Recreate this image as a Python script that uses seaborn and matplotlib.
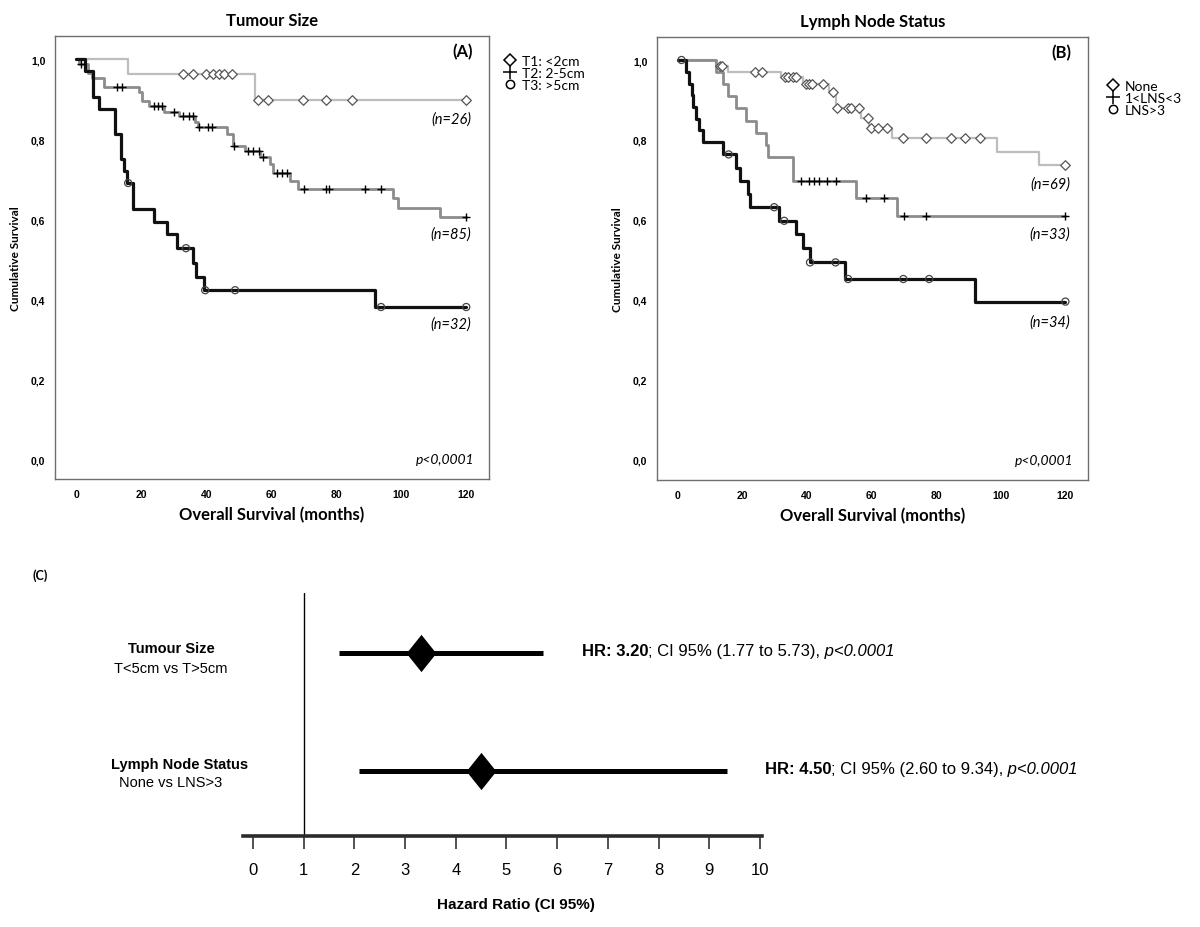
import numpy as np
import pandas as pd
import matplotlib
matplotlib.use("Agg")
import matplotlib.pyplot as plt
from matplotlib.lines import Line2D
from matplotlib.path import Path
import seaborn as sns

# Panel A - tumour size: step times, survival after each step, censor times
t1_steps = [16.1, 54.9]
t1_surv = [0.962, 0.898]
t1_cens = [32.8, 35.9, 39.9, 42.1, 43.8, 45.5, 47.9, 55.9, 58.9, 69.9, 76.8, 84.9, 120]

t2_steps = [1.0, 3.5, 5.0, 8.5, 19.2, 20.3, 22.3, 27.0, 31.5, 36.6, 37.6, 46.4, 48.4,
            52.0, 56.6, 59.7, 60.7, 65.8, 68.1, 97.6, 99.0, 112.0]
t2_surv = [0.988, 0.965, 0.953, 0.929, 0.918, 0.896, 0.882, 0.868, 0.857, 0.843, 0.829,
           0.8125, 0.783, 0.769, 0.754, 0.737, 0.715, 0.696, 0.675, 0.652, 0.628, 0.604]
t2_cens = [1.5, 12.7, 14.0, 23.8, 25.1, 26.4, 30.0, 33.0, 34.6, 35.9, 37.8, 40.7, 41.7,
           48.6, 53.0, 54.4, 56.1, 57.5, 61.9, 63.4, 65.0, 70.0, 76.8, 77.8, 88.8, 93.9, 120]

t3_steps = [2.8, 5.1, 6.9, 12.0, 13.8, 14.6, 15.6, 17.6, 23.8, 27.9, 31.0, 36.1, 36.9, 39.2, 92.0]
t3_surv = [0.969, 0.906, 0.875, 0.8125, 0.75, 0.72, 0.69, 0.625, 0.593, 0.562, 0.527,
           0.49, 0.455, 0.422, 0.38]
t3_cens = [16.0, 33.8, 39.7, 48.9, 93.8, 120]

# Panel B - lymph node status
n0_steps = [11.9, 15.5, 32.0, 38.6, 46.8, 48.8, 56.7, 59.1, 66.2, 98.8, 111.9]
n0_surv = [0.986, 0.971, 0.957, 0.940, 0.919, 0.879, 0.855, 0.831, 0.805, 0.771, 0.737]
n0_cens = [12.9, 13.6, 23.8, 25.9, 33.0, 34.2, 35.6, 36.5, 39.8, 40.7, 41.6, 44.8, 47.9,
           49.2, 52.8, 53.6, 56.0, 58.9, 59.8, 61.9, 64.7, 69.8, 76.7, 84.7, 88.8, 93.6, 120]

n1_steps = [11.9, 14.0, 15.5, 18.1, 21.1, 24.2, 27.3, 27.8, 35.7, 55.2, 67.9]
n1_surv = [0.97, 0.94, 0.909, 0.879, 0.848, 0.818, 0.788, 0.758, 0.697, 0.654, 0.611]
n1_cens = [38.1, 40.6, 42.2, 43.7, 46.3, 49.0, 58.3, 63.9, 69.9, 76.7, 120]

n3_steps = [2.5, 3.5, 4.3, 4.8, 5.5, 6.5, 7.8, 13.9, 18.1, 19.1, 21.6, 22.2, 31.2, 36.5,
            38.8, 40.8, 51.6, 91.9]
n3_surv = [0.971, 0.941, 0.912, 0.882, 0.853, 0.824, 0.794, 0.764, 0.731, 0.698, 0.665,
           0.632, 0.598, 0.565, 0.529, 0.494, 0.4525, 0.396]
n3_cens = [1.1, 15.7, 29.8, 32.9, 40.9, 48.8, 52.7, 69.8, 77.8, 120]

labels_a = ["T1: <2cm", "T2: 2-5cm", "T3: >5cm"]
labels_b = ["None", "1<LNS<3", "LNS>3"]
n_a = ["(n=26)", "(n=85)", "(n=32)"]
n_b = ["(n=69)", "(n=33)", "(n=34)"]
n_a_y = [0.85, 0.5625, 0.3375]
n_b_y = [0.69, 0.565, 0.345]

# Panel C - forest plot
fr_title = ["Tumour Size", "Lymph Node Status"]
fr_sub = ["T<5cm vs T>5cm", "None vs LNS>3"]
hr_mark = [3.31, 4.50]
ci_lo = [1.70, 2.10]
ci_hi = [5.73, 9.34]
hr_txt = ["3.20", "4.50"]
ci_txt = ["(1.77 to 5.73)", "(2.60 to 9.34)"]
fr_y = [1, 0]

sns.set_theme(style="white")
plt.rcParams["font.family"] = ["Liberation Sans", "DejaVu Sans"]
plt.rcParams["text.color"] = "black"
plt.rcParams["axes.labelcolor"] = "black"
plt.rcParams["xtick.color"] = "black"
plt.rcParams["ytick.color"] = "black"
CAL = ["Lato", "DejaVu Sans"]

fig = plt.figure(figsize=(12, 9.28), dpi=100)

styles = [
    dict(color="#bdbdbd", lw=1.6, marker="D", s=24, fc="white", ec="#555555"),
    dict(color="#8c8c8c", lw=2.0, marker="+", s=34, fc="black", ec="black"),
    dict(color="#111111", lw=2.3, marker="o", s=26, fc="none", ec="#444444"),
]


def surv_at(times, surv, t):
    i = np.searchsorted(times, t, side="right") - 1
    return surv[i]


def km_panel(ax, groups, labels, nlab, nlab_y, tag, title, leg_anchor):
    for (steps, surv, cens), st in zip(groups, styles):
        times = np.array([0.0] + steps + [120.0])
        ss = np.array([1.0] + surv + [surv[-1]])
        df = pd.DataFrame({"t": times, "s": ss})
        sns.lineplot(data=df, x="t", y="s", drawstyle="steps-post", estimator=None,
                     sort=False, color=st["color"], lw=st["lw"], ax=ax, zorder=2)
        cy = [surv_at(times, ss, c) for c in cens]
        if st["marker"] == "+":
            sns.scatterplot(x=cens, y=cy, marker="+", s=st["s"], color="black",
                            linewidth=1.0, ax=ax, zorder=3)
        else:
            sns.scatterplot(x=cens, y=cy, marker=st["marker"], s=st["s"],
                            facecolor=st["fc"], edgecolor=st["ec"], linewidth=0.9,
                            ax=ax, zorder=3)
    ax.set_xlim(-6.5, 127)
    ax.set_ylim(-0.05, 1.0575)
    ax.set_xticks(range(0, 121, 20))
    ax.set_yticks(np.arange(0, 1.01, 0.2))
    ax.set_yticklabels([f"{v:.1f}".replace(".", ",") for v in np.arange(0, 1.01, 0.2)])
    ax.tick_params(axis="both", direction="out", length=4, width=0.8, color="#333333",
                   labelsize=7.5, pad=3)
    for lab in ax.get_xticklabels() + ax.get_yticklabels():
        lab.set_fontweight("bold")
    for sp in ax.spines.values():
        sp.set_visible(True)
        sp.set_color("#6e6e6e")
        sp.set_linewidth(1.0)
    ax.set_xlabel("Overall Survival (months)", fontsize=12, fontweight="bold",
                  family=CAL, labelpad=5)
    ax.set_ylabel("Cumulative Survival", fontsize=8.5, fontweight="bold", family=CAL,
                  labelpad=7)
    ax.set_title(title, fontsize=12, fontweight="bold", family=CAL, pad=8)
    ax.text(122, 1.02, tag, ha="right", va="center", fontsize=12, fontweight="bold",
            family=CAL)
    for txt, yy in zip(nlab, nlab_y):
        ax.text(121.5, yy, txt, ha="right", va="center", fontsize=10.5, style="italic",
                family=CAL)
    ax.text(122.5, 0.0, "p<0,0001", ha="right", va="center", fontsize=10,
            style="italic", family=CAL)
    handles = [
        Line2D([], [], ls="none", marker="D", ms=6, mfc="white", mec="black", mew=1.1),
        Line2D([], [], ls="none", marker="+", ms=10, mec="black", mew=1.1),
        Line2D([], [], ls="none", marker="o", ms=6, mfc="white", mec="black", mew=1.1),
    ]
    ax.legend(handles, labels, loc="upper left", bbox_to_anchor=leg_anchor,
              frameon=False, handlelength=1.0, handletextpad=0.35, labelspacing=0.0,
              borderaxespad=0, prop={"family": CAL, "size": 10})


ax_a = fig.add_axes([55 / 1200, 1 - 480 / 928, 434 / 1200, 443 / 928])
km_panel(ax_a, [(t1_steps, t1_surv, t1_cens), (t2_steps, t2_surv, t2_cens),
                (t3_steps, t3_surv, t3_cens)],
         labels_a, n_a, n_a_y, "(A)", "Tumour Size", (1.02, 0.97))

ax_b = fig.add_axes([657 / 1200, 1 - 481 / 928, 431 / 1200, 443 / 928])
km_panel(ax_b, [(n0_steps, n0_surv, n0_cens), (n1_steps, n1_surv, n1_cens),
                (n3_steps, n3_surv, n3_cens)],
         labels_b, n_b, n_b_y, "(B)", "Lymph Node Status", (1.03, 0.915))

# forest plot
ax_c = fig.add_axes([243 / 1200, 1 - 837 / 928, 519 / 1200, 243 / 928])
ax_c.set_xlim(-0.197, 10.04)
ax_c.set_ylim(-0.551, 1.508)
ax_c.hlines(fr_y, ci_lo, ci_hi, color="black", lw=3.6, zorder=2)
diamond = Path([(0, 1), (0.8, 0), (0, -1), (-0.8, 0), (0, 1)],
               [Path.MOVETO, Path.LINETO, Path.LINETO, Path.LINETO, Path.CLOSEPOLY])
sns.scatterplot(x=hr_mark, y=fr_y, marker=diamond, s=720, color="black",
                edgecolor="black", linewidth=0, ax=ax_c, zorder=3)
ax_c.axvline(1, color="black", lw=1.0, zorder=1)
for sp in ["top", "left", "right"]:
    ax_c.spines[sp].set_visible(False)
ax_c.spines["bottom"].set_color("#2b2b2b")
ax_c.spines["bottom"].set_linewidth(2.6)
ax_c.set_yticks([])
ax_c.set_xticks(range(0, 11))
ax_c.tick_params(axis="x", direction="out", length=9, width=1.2, color="#333333",
                 labelsize=12, pad=10, bottom=True)
ax_c.set_xlabel("Hazard Ratio (CI 95%)", fontsize=11, fontweight="bold")
ax_c.xaxis.set_label_coords(0.525, -0.25)

for yy, hi, ht, ct in zip(fr_y, ci_hi, hr_txt, ci_txt):
    t0 = ax_c.text(hi + 0.75, yy + 0.02, f"HR: {ht}", ha="left", va="center",
                   fontsize=12, fontweight="bold")
    t1 = ax_c.annotate(f"; CI 95% {ct},", xy=(1, 0), xycoords=t0, ha="left", va="bottom",
                       fontsize=12)
    ax_c.annotate(" p<0.0001", xy=(1, 0), xycoords=t1, ha="left", va="bottom",
                  fontsize=12, style="italic")

for (tt, st), (xc, y1, y2) in zip(zip(fr_title, fr_sub), [(171, 649, 669), (180, 765, 783)]):
    fig.text(xc / 1200, 1 - y1 / 928, tt, ha="center", va="center", fontsize=10.5,
             fontweight="bold")
    fig.text(171 / 1200, 1 - y2 / 928, st, ha="center", va="center", fontsize=10.5)

fig.text(40 / 1200, 1 - 576 / 928, "(C)", ha="center", va="center", fontsize=9,
         fontweight="bold", family=CAL)

fig.savefig("out.png", dpi=100, facecolor="white")
